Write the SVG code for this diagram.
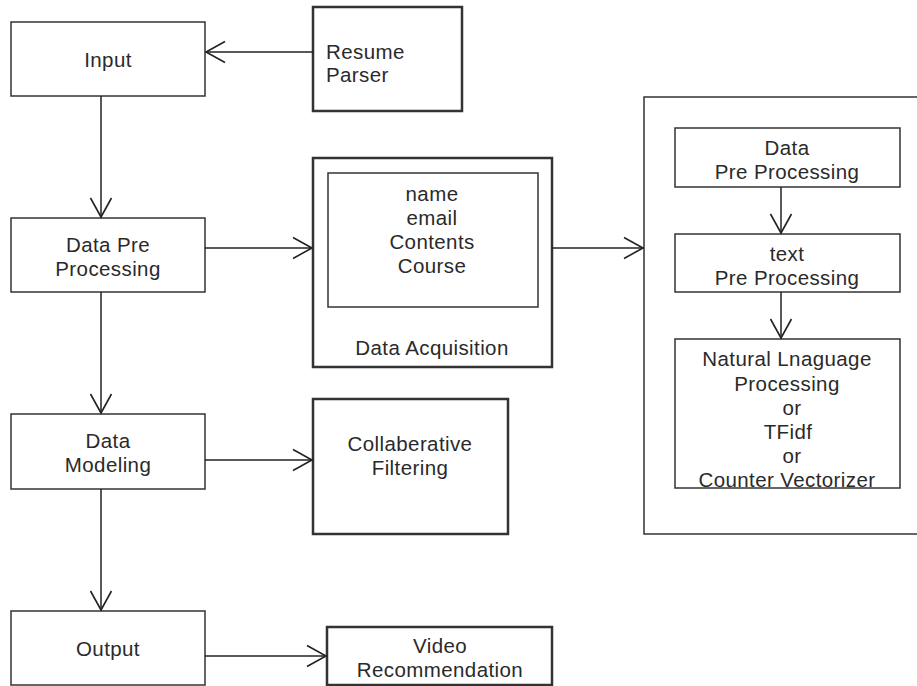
<svg xmlns="http://www.w3.org/2000/svg" width="917" height="686" viewBox="0 0 917 686">
<style>
  .box { fill: #ffffff; stroke: #333333; stroke-width: 1.5; }
  .thick { fill: #ffffff; stroke: #333333; stroke-width: 2.5; }
  .t { font-family: "Liberation Sans", Arial, sans-serif; font-size: 20.5px; letter-spacing: 0.4px; fill: #2a2a2a; text-anchor: middle; dominant-baseline: central; }
  .tl { text-anchor: start; }
  .edge { fill: none; stroke: #222222; stroke-width: 1.5; }
</style>
<defs>
  <marker id="open" markerUnits="userSpaceOnUse" markerWidth="24" markerHeight="26" refX="20" refY="12" orient="auto" viewBox="0 0 24 24">
    <path d="M1,1.5 L20,12 L1,22.5" fill="none" stroke="#222222" stroke-width="1.6"/>
  </marker>
</defs>
<rect width="917" height="686" fill="#ffffff"/>

<g id="input">
  <rect class="box" x="11" y="22" width="194" height="74"/>
  <text class="t" x="108" y="59">Input</text>
</g>
<g id="resume-parser">
  <rect class="thick" x="313" y="7" width="149" height="104"/>
  <text class="t tl" x="326" y="51">Resume</text>
  <text class="t tl" x="326" y="74">Parser</text>
</g>
<g id="data-pre-processing">
  <rect class="box" x="11" y="218" width="194" height="74"/>
  <text class="t" x="108" y="244">Data Pre</text>
  <text class="t" x="108" y="268">Processing</text>
</g>
<g id="data-acquisition">
  <rect class="thick" x="313" y="158" width="239" height="209"/>
  <rect class="box" x="328" y="173" width="210" height="134"/>
  <text class="t" x="432" y="193">name</text>
  <text class="t" x="432" y="217">email</text>
  <text class="t" x="432" y="241">Contents</text>
  <text class="t" x="432" y="265">Course</text>
  <text class="t" x="432" y="347">Data Acquisition</text>
</g>
<g id="processing-pipeline">
  <rect class="box" x="644" y="97" width="290" height="437"/>
</g>
<g id="data-pre-processing-2">
  <rect class="box" x="675" y="128" width="225" height="59"/>
  <text class="t" x="787" y="147">Data</text>
  <text class="t" x="787" y="171">Pre Processing</text>
</g>
<g id="text-pre-processing">
  <rect class="box" x="675" y="234" width="225" height="58"/>
  <text class="t" x="787" y="253">text</text>
  <text class="t" x="787" y="277">Pre Processing</text>
</g>
<g id="nlp">
  <rect class="box" x="675" y="339" width="225" height="149"/>
  <text class="t" x="787" y="358">Natural Lnaguage</text>
  <text class="t" x="787" y="383">Processing</text>
  <text class="t" x="792" y="407">or</text>
  <text class="t" x="788" y="431">TFidf</text>
  <text class="t" x="792" y="455">or</text>
  <text class="t" x="787" y="479">Counter Vectorizer</text>
</g>
<g id="data-modeling">
  <rect class="box" x="11" y="414" width="194" height="75"/>
  <text class="t" x="108" y="440">Data</text>
  <text class="t" x="108" y="464">Modeling</text>
</g>
<g id="collaberative-filtering">
  <rect class="thick" x="313" y="399" width="195" height="135"/>
  <text class="t" x="410" y="443">Collaberative</text>
  <text class="t" x="410" y="467">Filtering</text>
</g>
<g id="output">
  <rect class="box" x="11" y="611" width="194" height="74"/>
  <text class="t" x="108" y="648">Output</text>
</g>
<g id="video-recommendation">
  <rect class="thick" x="327" y="627" width="225" height="58"/>
  <text class="t" x="440" y="645">Video</text>
  <text class="t" x="440" y="669">Recommendation</text>
</g>

<g id="connectors">
  <line class="edge" x1="313" y1="52" x2="206" y2="52" marker-end="url(#open)"/>
  <line class="edge" x1="101" y1="96" x2="101" y2="217" marker-end="url(#open)"/>
  <line class="edge" x1="205" y1="248" x2="312" y2="248" marker-end="url(#open)"/>
  <line class="edge" x1="552" y1="248" x2="643" y2="248" marker-end="url(#open)"/>
  <line class="edge" x1="781" y1="187" x2="781" y2="233" marker-end="url(#open)"/>
  <line class="edge" x1="781" y1="292" x2="781" y2="338" marker-end="url(#open)"/>
  <line class="edge" x1="101" y1="292" x2="101" y2="413" marker-end="url(#open)"/>
  <line class="edge" x1="205" y1="460" x2="312" y2="460" marker-end="url(#open)"/>
  <line class="edge" x1="101" y1="489" x2="101" y2="610" marker-end="url(#open)"/>
  <line class="edge" x1="205" y1="656" x2="326" y2="656" marker-end="url(#open)"/>
</g>
</svg>
